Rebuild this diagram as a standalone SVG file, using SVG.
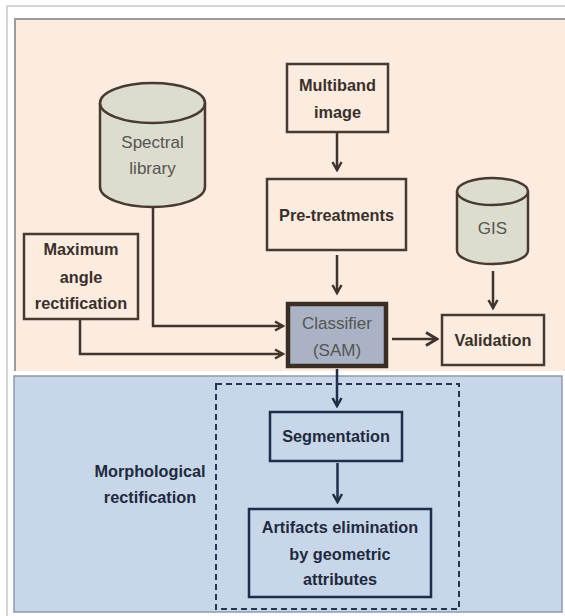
<svg xmlns="http://www.w3.org/2000/svg" width="565" height="616" viewBox="0 0 565 616">
<defs>
<style>
.frame{fill:#ffffff;stroke:#c8c8c8;stroke-width:1.5}
.box{fill:none;stroke:#483a30;stroke-width:2.5}
.boxb{fill:none;stroke:#1f2d48;stroke-width:2.5}
.cyl{fill:#dcdccf;stroke:#483a30;stroke-width:2.5}
.tb{font-family:"Liberation Sans",Arial,sans-serif;font-weight:bold;font-size:16.3px;fill:#3a302a;text-anchor:middle}
.tbb{font-family:"Liberation Sans",Arial,sans-serif;font-weight:bold;font-size:16.3px;fill:#1e2a3e;text-anchor:middle}
.tr{font-family:"Liberation Sans",Arial,sans-serif;font-size:17px;fill:#555552;text-anchor:middle}
.conn{fill:none;stroke:#40342c;stroke-width:2.5}
.connb{fill:none;stroke:#1f2d48;stroke-width:2.5}
</style>
<marker id="ah" viewBox="0 0 12 12" refX="10" refY="6" markerWidth="12" markerHeight="12" markerUnits="userSpaceOnUse" orient="auto">
<path d="M2,1.5 L10,6 L2,10.5" fill="none" stroke="#40342c" stroke-width="2.5"/>
</marker>
<marker id="ahb" viewBox="0 0 12 12" refX="10" refY="6" markerWidth="12" markerHeight="12" markerUnits="userSpaceOnUse" orient="auto">
<path d="M2,1.5 L10,6 L2,10.5" fill="none" stroke="#1f2d48" stroke-width="2.5"/>
</marker>
<marker id="ahl" viewBox="0 0 16 16" refX="14" refY="8" markerWidth="16" markerHeight="16" markerUnits="userSpaceOnUse" orient="auto">
<path d="M3,1.5 L14,8 L3,14.5" fill="none" stroke="#40342c" stroke-width="3"/>
</marker>
</defs>

<rect x="0" y="0" width="565" height="616" fill="#ffffff"/>
<rect class="frame" x="7" y="6" width="570" height="620"/>

<g id="panel-top">
<rect x="15" y="19" width="560" height="352" fill="#fcebdf"/>
<path d="M15,371 L15,19 L565,19" fill="none" stroke="#9c9c9c" stroke-width="2"/>
</g>
<g id="panel-bottom">
<rect x="14" y="376" width="548" height="236" fill="#c8d6e9" stroke="#8e9aaa" stroke-width="1.5"/>
</g>

<g id="connectors">
<path class="conn" d="M153,207 L153,326 L283,326" marker-end="url(#ah)"/>
<path class="conn" d="M80,319 L80,354 L283,354" marker-end="url(#ah)"/>
<path class="conn" d="M337,132 L337,170" marker-end="url(#ah)"/>
<path class="conn" d="M337,255 L337,293" marker-end="url(#ah)"/>
<path class="conn" d="M493,271 L493,308" marker-end="url(#ah)"/>
<path class="conn" d="M392,339 L437,339" stroke-width="3" marker-end="url(#ahl)"/>
<path class="connb" d="M337,369 L337,406" marker-end="url(#ahb)"/>
<path class="connb" d="M337.5,463 L337.5,502" marker-end="url(#ahb)"/>
</g>

<g id="spectral-library">
<path class="cyl" d="M100,103 L100,187 A52.5,20 0 0 0 205,187 L205,103"/>
<ellipse class="cyl" cx="152.5" cy="103" rx="52.5" ry="20"/>
<text class="tr" x="152.5" y="148">Spectral</text>
<text class="tr" x="152.5" y="174">library</text>
</g>

<g id="multiband-image">
<rect class="box" x="287" y="64" width="101" height="68"/>
<text class="tb" x="337.5" y="91">Multiband</text>
<text class="tb" x="337.5" y="118">image</text>
</g>

<g id="pre-treatments">
<rect class="box" x="267" y="179" width="139" height="71"/>
<text class="tb" x="336.5" y="221">Pre-treatments</text>
</g>

<g id="gis">
<path class="cyl" d="M457,191.5 L457,250.5 A35.5,13.5 0 0 0 528,250.5 L528,191.5"/>
<ellipse class="cyl" cx="492.5" cy="191.5" rx="35.5" ry="13.5"/>
<text class="tr" x="492.5" y="234">GIS</text>
</g>

<g id="max-angle">
<rect class="box" x="24" y="234" width="114" height="85"/>
<text class="tb" x="81" y="255">Maximum</text>
<text class="tb" x="81" y="283">angle</text>
<text class="tb" x="81" y="309">rectification</text>
</g>

<g id="classifier">
<rect x="288" y="304" width="98" height="62" fill="#a9b3c5" stroke="#3b2c24" stroke-width="4.5"/>
<text class="tr" x="337" y="329" fill="#454852">Classifier</text>
<text class="tr" x="337" y="356" fill="#454852">(SAM)</text>
</g>

<g id="validation">
<rect class="box" x="442" y="315" width="102" height="50"/>
<text class="tb" x="493" y="346">Validation</text>
</g>

<g id="morphological-group">
<rect x="216" y="384" width="243" height="225" fill="none" stroke="#243452" stroke-width="2" stroke-dasharray="6,4"/>
<text class="tbb" x="150" y="477">Morphological</text>
<text class="tbb" x="150" y="503">rectification</text>
</g>

<g id="segmentation">
<rect class="boxb" x="270" y="412" width="132" height="49"/>
<text class="tbb" x="336" y="442">Segmentation</text>
</g>

<g id="artifacts">
<rect class="boxb" x="249" y="509" width="182" height="88"/>
<text class="tbb" x="340" y="533">Artifacts elimination</text>
<text class="tbb" x="340" y="560">by geometric</text>
<text class="tbb" x="340" y="585">attributes</text>
</g>
</svg>
